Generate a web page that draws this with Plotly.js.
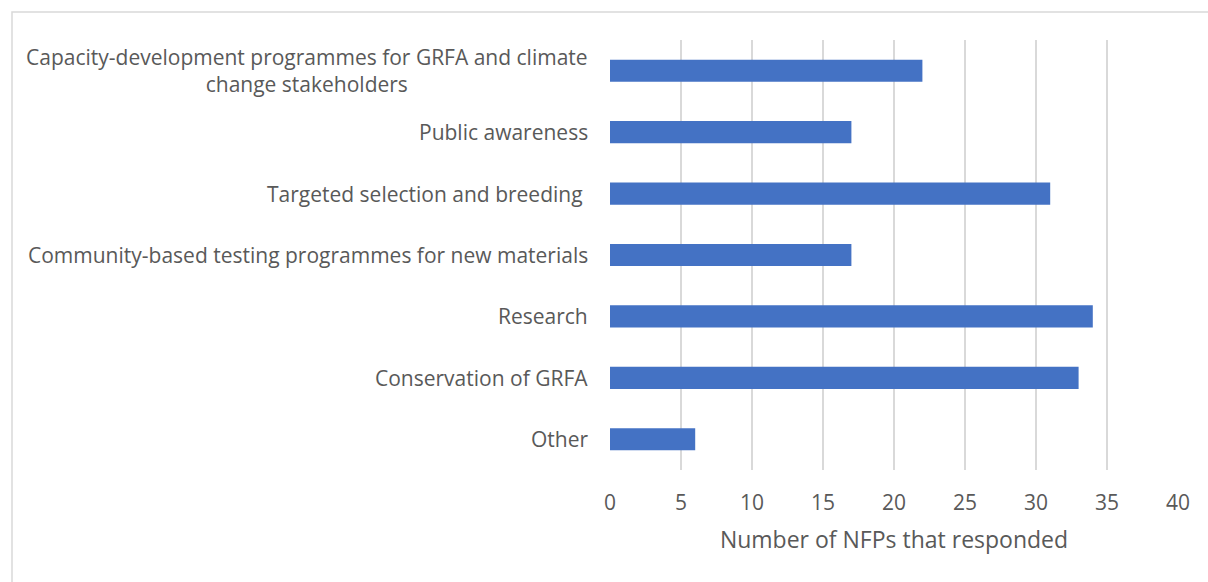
<!DOCTYPE html>
<html>
<head>
<meta charset="utf-8">
<script src="https://cdn.plot.ly/plotly-3.0.1.min.js"></script>
<style>html,body{margin:0;padding:0;background:#fff;}#chart{width:1208px;height:582px;}</style>
</head>
<body>
<div id="chart"></div>
<script>
const categories = [
  "Capacity-development programmes for GRFA and climate<br>change stakeholders",
  "Public awareness",
  "Targeted selection and breeding ",
  "Community-based testing programmes for new materials",
  "Research",
  "Conservation of GRFA",
  "Other"
];
const values = [22, 17, 31, 17, 34, 33, 6];
const xTicks = [0, 5, 10, 15, 20, 25, 30, 35, 40];
const xTitle = "Number of NFPs that responded";

const FONT = "Open Sans, Calibri, sans-serif";
const trace = {
  type: "bar",
  orientation: "h",
  y: categories,
  x: values,
  marker: {color: "#4472C4"},
  hoverinfo: "x+y"
};

const annotations = categories.map(c => ({
  xref: "paper", yref: "y", x: 0, y: c, xanchor: "right", yanchor: "middle",
  xshift: -20, text: c, showarrow: false, align: "center",
  font: {family: FONT, size: 21, color: "#595959"}
}));

const layout = {
  width: 1208, height: 582,
  margin: {l: 610, r: 30, t: 40, b: 112},
  paper_bgcolor: "#fff", plot_bgcolor: "#fff",
  bargap: 0.64,
  showlegend: false,
  font: {family: FONT, color: "#595959", size: 21},
  xaxis: {
    range: [0, 40], tickvals: xTicks, ticktext: xTicks.map(String),
    showgrid: true, gridcolor: "#d9d9d9", gridwidth: 1.5,
    zeroline: false, showline: false, ticks: "", ticklen: 0,
    ticklabelstandoff: 18,
    tickfont: {family: FONT, size: 21, color: "#595959"},
    title: {text: xTitle, font: {family: FONT, size: 23, color: "#595959"}, standoff: 16}
  },
  yaxis: {
    categoryorder: "array", categoryarray: categories.slice().reverse(),
    showticklabels: false, showgrid: false, zeroline: false, ticks: ""
  },
  annotations: annotations,
  shapes: [{
    type: "rect", xref: "paper", yref: "paper",
    x0: (12 - 610) / 568, x1: 1.1, y0: -0.4, y1: (470 - 12) / 430,
    line: {color: "#d9d9d9", width: 1.5}, fillcolor: "rgba(0,0,0,0)", layer: "below"
  }]
};

Plotly.newPlot("chart", [trace], layout, {displayModeBar: false, staticPlot: true});
</script>
</body>
</html>
